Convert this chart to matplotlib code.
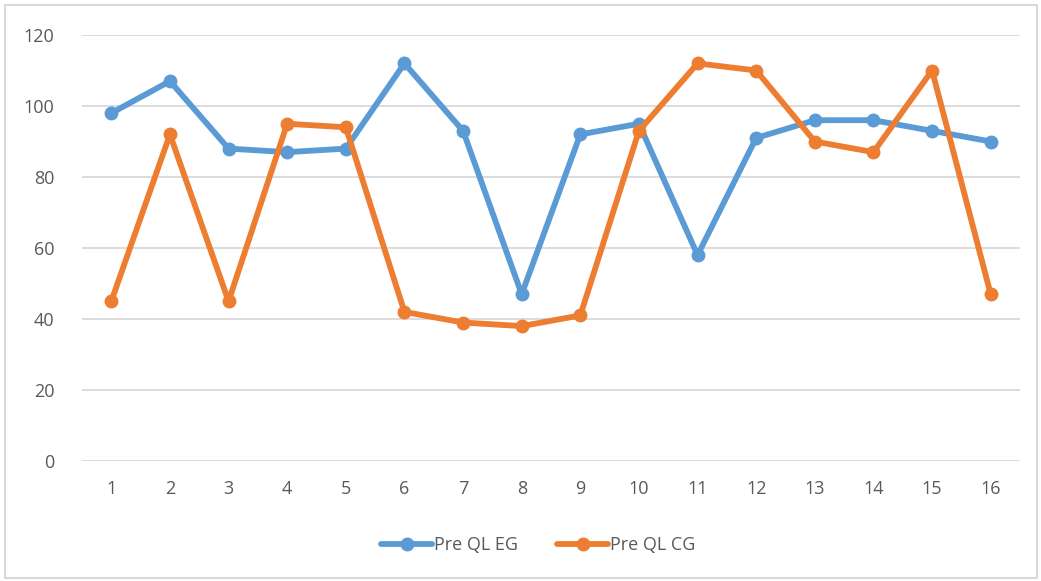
import matplotlib.pyplot as plt
from matplotlib.patches import Rectangle

plt.rcParams['font.family'] = ['Open Sans', 'DejaVu Sans']

categories = [str(i) for i in range(1, 17)]
pre_ql_eg = [98, 107, 88, 87, 88, 112, 93, 47, 92, 95, 58, 91, 96, 96, 93, 90]
pre_ql_cg = [45, 92, 45, 95, 94, 42, 39, 38, 41, 93, 112, 110, 90, 87, 110, 47]

blue = "#5b9bd5"
orange = "#ed7d31"
text_col = "#595959"

W, H = 1041, 581
fig = plt.figure(figsize=(W / 100, H / 100), dpi=100)
ax = fig.add_axes([82 / W, 1 - 461 / H, (1020 - 82) / W, (461 - 35) / H])

x = list(range(len(categories)))
ax.plot(x, pre_ql_eg, color=blue, lw=4.2, marker="o", ms=9, label="Pre QL EG",
        solid_joinstyle="round", solid_capstyle="round", zorder=3)
ax.plot(x, pre_ql_cg, color=orange, lw=4.2, marker="o", ms=9, label="Pre QL CG",
        solid_joinstyle="round", solid_capstyle="round", zorder=3)

ax.set_xlim(-0.5, len(categories) - 0.5)
ax.set_ylim(0, 120)
ax.set_yticks(range(0, 121, 20))
ax.set_xticks(x)
ax.set_xticklabels(categories)
ax.grid(axis="y", color="#d9d9d9", lw=1.3)
ax.set_axisbelow(True)
for s in ax.spines.values():
    s.set_visible(False)
ax.tick_params(length=0, labelsize=13, colors=text_col, pad=14)
ax.tick_params(axis="y", pad=20)

leg = fig.legend(loc="center", bbox_to_anchor=(0.517, 1 - 545 / H), ncol=2,
                 frameon=False, fontsize=13, handlelength=2.8, handletextpad=0.1,
                 columnspacing=2.2)
for t in leg.get_texts():
    t.set_color(text_col)

fig.patches.append(Rectangle((5 / W, 3 / H), 1 - 9 / W, 1 - 8 / H, transform=fig.transFigure,
                             fill=False, edgecolor="#d9d9d9", lw=1.5))

fig.savefig("out.png", dpi=100)
